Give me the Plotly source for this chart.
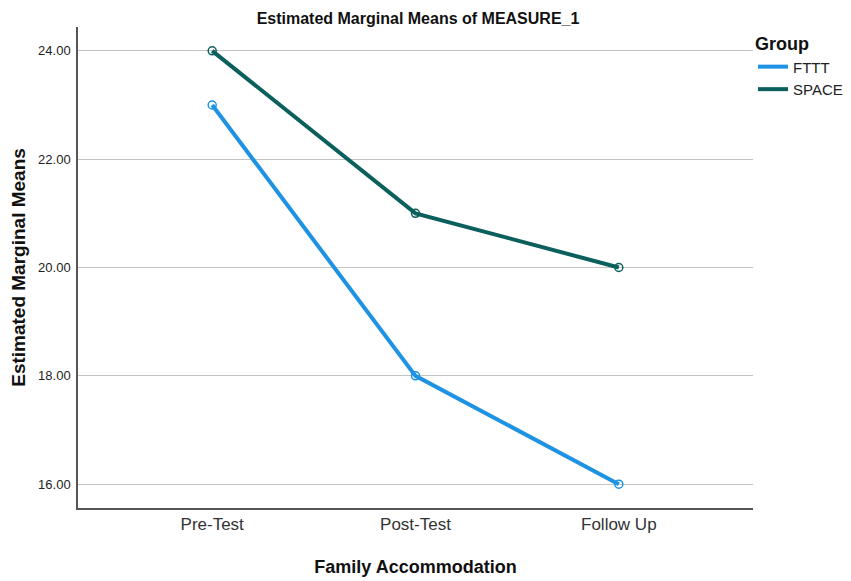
import plotly.graph_objects as go

# Estimated marginal means per test phase
phases = ['Pre-Test', 'Post-Test', 'Follow Up']
fttt = [23.0, 18.0, 16.0]
space = [24.0, 21.0, 20.0]
y_ticks = [16, 18, 20, 22, 24]
y_tick_labels = ['16.00', '18.00', '20.00', '22.00', '24.00']

# the page body adds an 8px margin; the figure runs a little past the right edge
# of the window so the legend has room without squeezing the plot
W, H = 879, 573
blue = '#1f93e3'
teal = '#0b5f5c'

fig = go.Figure(layout=go.Layout(width=W, height=H,
                                 margin=dict(l=70, r=130, t=19, b=73),
                                 plot_bgcolor='white', paper_bgcolor='white',
                                 font=dict(family='Liberation Sans, Arial', color='#222222'))
                )
fig.add_scatter(x=phases, y=fttt, name='FTTT', mode='lines+markers', showlegend=False,
                line={'color': blue, 'width': 4},
                marker={'symbol': 'circle-open', 'size': 8, 'color': blue, 'line': {'width': 1.5}})
fig.add_scatter(x=phases, y=space, name='SPACE', mode='lines+markers', showlegend=False,
                line={'color': teal, 'width': 4},
                marker={'symbol': 'circle-open', 'size': 8, 'color': teal, 'line': {'width': 1.5}})
# legend entries show only the line, as in the SPSS output
fig.add_scatter(x=[None], y=[None], name='FTTT', mode='lines', line={'color': blue, 'width': 4})
fig.add_scatter(x=[None], y=[None], name='SPACE', mode='lines', line={'color': teal, 'width': 4})

fig.update_xaxes(range=[-0.66, 2.66], showline=True, linecolor='#555555', linewidth=1.5,
                 showgrid=False, ticks='', ticklen=0, tickfont=dict(size=17, color='#333333'), automargin=False,
                 title=dict(text='<b>Family Accommodation</b>', font=dict(size=18, color='#111111'), standoff=27))
fig.update_yaxes(range=[15.56, 24.44], showline=True, linecolor='#555555', linewidth=1.5,
                 showgrid=True, gridcolor='#c4c4c4', gridwidth=1.3, zeroline=False,
                 tickvals=y_ticks, ticktext=y_tick_labels, ticks='', ticklen=0, automargin=False,
                 ticklabelstandoff=3, tickfont=dict(size=13, color='#222222'),
                 title=dict(text='<b>Estimated Marginal Means</b>', font=dict(size=19, color='#111111'), standoff=25))
fig.update_layout(
    title=dict(text='<b>Estimated Marginal Means of MEASURE_1</b>', x=410 / W, xanchor='center',
               y=1 - 10 / H, yanchor='middle', font=dict(size=16, color='#111111')),
    legend=dict(title=dict(text='<b>Group</b>', font=dict(size=18, color='#111111')),
                xref='container', x=745 / W, xanchor='left', y=1.0, yanchor='top',
                font=dict(size=15, color='#222222'), tracegroupgap=0, itemwidth=30),
)
fig.write_html('out.html')
